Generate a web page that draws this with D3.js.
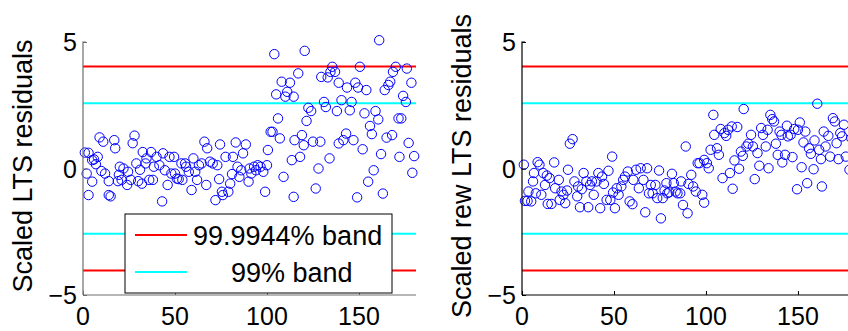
<!DOCTYPE html>
<html>
<head>
<meta charset="utf-8">
<script src="https://cdn.jsdelivr.net/npm/d3@7"></script>
<style>
  body { margin: 0; background: #fff; }
  svg text { font-family: "Liberation Sans", Arial, Helvetica, sans-serif; fill: #000; }
</style>
</head>
<body>
<svg id="fig" width="848" height="331"></svg>
<script>
// scaled LTS residuals (left panel), index vs value
var ltsX = [1,2,3,3,5,5,6,7,8,9,10,11,12,14,14,15,17,17.5,19,19.5,20,21,22,24,24.5,26,27,28,29,30,31,32,32.5,34,34.5,36,37,38,38.5,40,41.5,43,43.5,44.5,46,47,48,49.5,50,51,52,53.5,54,55.5,56,57.5,59,60,61,62,63,64.5,66,67,67.5,69,70.5,72,73,74,74.5,75.5,76,77.5,79,80,81,81.5,83,84,85,86,87,88.5,90,90.5,91.5,93,94,95,96.5,98,99,100,100.5,102,103,104,105,106,107,108,109,110,111,112.5,113.5,114.5,114.5,115,117,118,119,120,120.5,121.5,122.5,124,125,126.5,128,129,129.5,131,132,133,134,134.5,135.5,137,138,139,139,140.5,141.5,143,143.5,145,146,147,148,149,149.5,150.5,152,153,154,155,156,157,158,159,160.5,161,162,163,164,165,166,167,168,168.5,170,171.5,172,173,174,175.5,176,177,178.5,179,180];
var ltsY = [0.63,-0.2,-1.05,0.62,-0.52,0.33,0.36,0.17,0.46,1.23,-0.1,1.06,-0.2,-0.5,-1.05,-1.1,1.12,0.8,-0.5,-0.25,0.07,-0.45,0,-0.65,-0.13,-0.45,1.0,1.3,0.2,-0.5,-0.05,-0.6,0.65,0.2,0.4,-0.45,0.65,-0.45,0.07,0.46,0.13,-1.3,0.6,-0.07,-0.65,0.46,-0.2,0.46,-0.2,-0.4,-0.42,0.2,-0.45,0.2,0.07,-0.13,-0.85,0.4,-0.13,-0.45,0.13,0.2,1.06,-0.65,0.8,0.27,0.2,-1.25,0.13,-0.42,0.95,-0.92,-1.05,0.46,-0.92,-0.6,-0.22,0.46,1.03,0.07,-0.33,-0.07,0.6,0.95,-0.52,0,-0.2,0.07,-0.07,0.13,0.07,-0.13,-0.92,0.13,0.73,1.45,1.45,4.52,2.93,1.98,1.19,3.43,-0.33,2.84,3.03,3.39,0.33,-1.12,2.84,1.12,3.76,0.46,1.32,0.92,4.65,1.88,2.4,2.27,1.06,-0.79,0,1.06,3.62,2.63,2.43,3.6,0.4,3.82,4.02,3.82,2.27,3.39,0.99,2.7,1.12,1.38,3.2,2.3,2.63,1.12,3.39,-1.14,3.2,4.02,0.76,2.18,3.1,-0.52,1.68,1.36,-0.07,2.27,1.94,5.07,0.57,-0.99,3.1,1.22,3.3,3.43,1.32,3.82,4.02,1.98,0.46,1.98,2.87,2.63,3.95,1.01,3.39,-0.17,0.49];

// scaled reweighted LTS residuals (right panel)
var rewX = [1,1.6,3.5,3,5,6,6.5,7.5,8.5,9.5,10.5,11.5,12.5,13.5,14,15,16,17.5,18,20,20.5,21.5,22.5,23.5,24.5,25,26,27.5,28.5,30,30.5,31.5,32.5,33.5,35,36,37,38,39,40.5,41.5,42.5,43.5,44.5,46,47,48,49,49.5,50.5,51.5,52.5,54,55,56,57.5,58.5,60,60.5,62,63.5,64.5,66,67,68,69,70,71,72.5,73.5,74.5,75.5,76.5,77.5,78.5,79,80,81.5,82.5,83.5,84.5,86,86.5,87.5,89,90,90.5,92,93,94.5,95.5,96.5,98,99,99,100.5,101.5,102.5,104,104.5,106,107,108,109,110,111,112,113,114,114.5,115.5,117,118,119,120,120.5,122,123,124.5,125.5,126.5,128,129,130,131,132.5,133.5,134,135,136,137,138,139,140,141,141.5,143,144,144.5,146,147,148,149.5,150,151,152,153,154,155,156,157,158.5,159,160.5,161.5,162.5,163,164,165,166.5,167.5,169,170,171,172,173,174,175,176,178,179,180];
var rewY = [0.15,-1.28,-0.91,-1.28,-1.3,-0.51,-0.18,-0.98,0.25,0.15,-1.04,-0.18,-0.65,-0.28,-1.4,-0.38,-1.4,0.24,-0.78,-0.45,-1.24,-0.91,-1.04,-1.37,-0.87,-0.05,0.98,1.16,-0.51,-1.1,-0.71,-1.53,-0.82,-0.18,-0.51,-1.53,-0.65,-0.51,-1.04,-0.51,-0.18,-1.57,-0.32,-0.61,-1.24,-0.09,-1.24,0.47,-0.95,-1.57,-0.78,-1.04,-0.71,-0.45,-0.32,-0.12,-1.3,-1.41,-0.45,-0.05,-0.78,0.01,-0.45,-1.73,0.01,-0.98,-0.65,-0.98,-0.65,-1.17,-0.08,-1.97,-1.17,-0.87,-0.58,-0.98,-0.94,-0.21,-0.58,-0.91,-0.98,-0.98,-0.51,-1.44,0.87,-1.77,-0.61,-0.25,-0.71,-0.91,0.21,0.21,-1.04,-1.35,0.34,0.21,0.01,0.74,2.12,1.33,0.8,0.54,1.56,-0.38,1.4,1.29,1.53,-0.18,1.66,-0.8,0.32,1.64,-0.01,0.67,0.5,2.35,0.87,0.98,1.33,0.87,-0.42,0.61,0.11,1.6,1.33,0.87,1.53,0.01,2.12,1.95,1.86,0.98,0.54,1.46,1.33,0.24,0.54,1.69,1.27,1.33,0.45,1.56,-0.82,1.53,1.82,0.05,1.03,1.46,-0.58,0.8,0.58,-0.03,1.11,2.56,0.74,0.37,-0.71,1.46,0.87,1.29,0.47,1.99,1.86,1.0,0.37,1.4,1.27,1.73,0.47,-0.05,1.2,0.9];

var bandLevels = [4.03, 2.576];          // 99.9944% and 99% bands
var bandColors = ["#ff0000", "#00ffff"];
var legendLabels = ["99.9944% band", "99% band"];
var yTicks = [-5, 0, 5];
var xTicks = [0, 50, 100, 150];

var svg = d3.select("svg#fig");
var plotTop = 42, plotBottom = 295, plotW = 333;

var y = d3.scaleLinear().domain([-5, 5]).range([plotBottom, plotTop]);

function drawPanel(left, xs, ys, label, axisColor, showLegend) {
  var x = d3.scaleLinear().domain([0, 181]).range([left, left + plotW]);
  var g = svg.append("g");

  // bands
  bandLevels.forEach(function(b, i) {
    [b, -b].forEach(function(v) {
      g.append("line")
        .attr("x1", x(0)).attr("x2", x(181))
        .attr("y1", y(v)).attr("y2", y(v))
        .attr("stroke", bandColors[i]).attr("stroke-width", 2);
    });
  });

  // residual markers
  g.selectAll("circle")
    .data(xs.map(function(d, i) { return [d, ys[i]]; }))
    .enter()
    .append("circle")
    .attr("cx", d => x(d[0]))
    .attr("cy", d => y(d[1]))
    .attr("r", 4.7)
    .attr("fill", "none")
    .attr("stroke", "#0000ff")
    .attr("stroke-width", 1);

  // axes (box off, ticks inside)
  var ya = g.append("g").attr("transform", "translate(" + left + ",0)")
    .call(d3.axisRight(y).tickValues(yTicks).tickSize(4).tickFormat(""));
  ya.select(".domain").attr("stroke", axisColor).attr("stroke-width", 1.2).attr("d", "M0," + plotBottom + "V" + plotTop + "h3");
  ya.selectAll(".tick line").attr("stroke", axisColor);

  var xa = g.append("g").attr("transform", "translate(0," + plotBottom + ")")
    .call(d3.axisTop(x).tickValues(xTicks).tickSize(4).tickFormat(""));
  xa.select(".domain").attr("stroke", axisColor).attr("stroke-width", 1.2).attr("d", "M" + left + ",0H" + x(181));
  xa.selectAll(".tick line").attr("stroke", axisColor);

  g.selectAll("text.ytl")
    .data(yTicks).enter().append("text")
    .attr("class", "ytl")
    .attr("x", left - 6)
    .attr("y", d => y(d) + 9)
    .attr("text-anchor", "end")
    .style("font-size", "25px")
    .text(d => d < 0 ? "\u2212" + Math.abs(d) : d);

  g.selectAll("text.xtl")
    .data(xTicks).enter().append("text")
    .attr("class", "xtl")
    .attr("x", d => x(d))
    .attr("y", 325)
    .attr("text-anchor", "middle")
    .style("font-size", "25px")
    .text(d => d);

  g.append("text")
    .attr("transform", "translate(" + (left - 51) + "," + 166 + ") rotate(-90)")
    .attr("text-anchor", "middle")
    .style("font-size", "27px")
    .text(label);

  if (showLegend) {
    var lg = g.append("g");
    lg.append("rect")
      .attr("x", 125).attr("y", 214).attr("width", 267).attr("height", 79)
      .attr("fill", "#fff").attr("stroke", "#000").attr("stroke-width", 1);
    var ly = [235, 272], lx = [193, 231];
    legendLabels.forEach(function(t, i) {
      lg.append("line")
        .attr("x1", 135).attr("x2", 187).attr("y1", ly[i]).attr("y2", ly[i])
        .attr("stroke", bandColors[i]).attr("stroke-width", 2);
      lg.append("text")
        .attr("x", lx[i]).attr("y", ly[i] + 10)
        .style("font-size", "27px")
        .text(t);
    });
  }
}

drawPanel(83, ltsX, ltsY, "Scaled LTS residuals", "#6e6e6e", true);
drawPanel(522, rewX, rewY, "Scaled rew LTS residuals", "#000", false);
</script>
</body>
</html>
